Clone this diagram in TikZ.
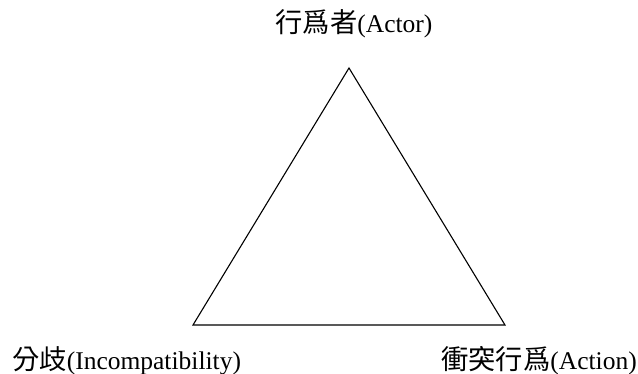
\documentclass[tikz,border=0pt]{standalone}
\usepackage{fontspec}
\setmainfont{Liberation Serif}
\newfontfamily\cjk[Scale=1.07]{Noto Sans CJK TC}
\begin{document}
\begin{tikzpicture}[x=1pt,y=1pt,
  lbl/.style={inner sep=0pt,font=\fontsize{25.5}{30}\selectfont}]
\useasboundingbox (0,0) rectangle (638,374);
\coordinate (A) at (349,306);
\coordinate (L) at (193,49);
\coordinate (R) at (505,49);
\draw[line width=1.1pt, line join=miter] (A) -- (L) -- (R) -- cycle;
\node[lbl,anchor=base] (actor) at (354,341) {{\cjk 行爲者}(Actor)};
\node[lbl,anchor=base west] (incomp) at (12,4) {{\cjk 分歧}(Incompatibility)};
\node[lbl,anchor=base east] (action) at (637,4) {{\cjk 衝突行爲}(Action)};
\end{tikzpicture}
\end{document}
